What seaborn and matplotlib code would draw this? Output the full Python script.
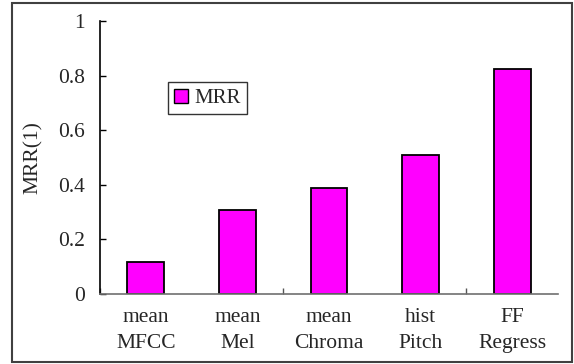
import matplotlib
matplotlib.use("Agg")
import matplotlib.pyplot as plt
import seaborn as sns
import pandas as pd
from matplotlib.patches import Rectangle, Patch

categories = ["mean\nMFCC", "mean\nMel", "mean\nChroma", "hist\nPitch", "FF\nRegress"]
mrr_values = [0.119, 0.306, 0.389, 0.508, 0.824]
y_ticks = [0, 0.2, 0.4, 0.6, 0.8, 1]
y_tick_labels = ["0", "0.2", "0.4", "0.6", "0.8", "1"]

sns.set_theme(style="white")
plt.rcParams["font.family"] = ["Liberation Serif", "DejaVu Serif"]

df = pd.DataFrame({"feature": categories, "MRR": mrr_values})

fig = plt.figure(figsize=(5.74, 3.64), dpi=100)
ax = fig.add_axes([100/574, 1 - 294/364, 458/574, 273/364])

sns.barplot(data=df, x="feature", y="MRR", color="#ff00ff", edgecolor="black",
            linewidth=1.3, width=0.4, saturation=1, ax=ax)

ax.set_xlim(-0.5, 4.5)
ax.set_ylim(0, 1)
ax.set_yticks(y_ticks)
ax.set_yticklabels(y_tick_labels)
ax.tick_params(axis="y", direction="in", length=4.5, width=1, color="black",
               pad=11, labelsize=15.5, left=True)
ax.set_xticks(range(len(categories)))
ax.set_xticklabels(categories, linespacing=1.5)
ax.tick_params(axis="x", which="major", length=0, pad=10, labelsize=15.5)
ax.set_xticks([-0.5, 1.5, 3.5], minor=True)
ax.tick_params(axis="x", which="minor", direction="in", length=4.5, width=1,
               color="#555555", bottom=True)
ax.set_xlabel("")
ax.set_ylabel("MRR(1)", fontsize=15.5, labelpad=11)

for s in ["top", "right"]:
    ax.spines[s].set_visible(False)
ax.spines["left"].set_color("black")
ax.spines["left"].set_linewidth(1.2)
ax.spines["bottom"].set_color("#707070")
ax.spines["bottom"].set_linewidth(1.2)

handle = Patch(facecolor="#ff00ff", edgecolor="black", linewidth=1.0, label="MRR")
leg = ax.legend(handles=[handle], loc="upper left", bbox_to_anchor=(0.149, 0.775),
                fancybox=False, frameon=True, edgecolor="black", fontsize=15,
                handlelength=0.65, handleheight=0.65, handletextpad=0.3,
                borderpad=0.3, borderaxespad=0)
leg.get_frame().set_linewidth(1.0)

fig.patches.append(Rectangle((12/574, 1 - 362/364), 560/574, 359/364,
                             transform=fig.transFigure, fill=False,
                             edgecolor="#404040", linewidth=1.5))

fig.savefig("out.png", dpi=100)
